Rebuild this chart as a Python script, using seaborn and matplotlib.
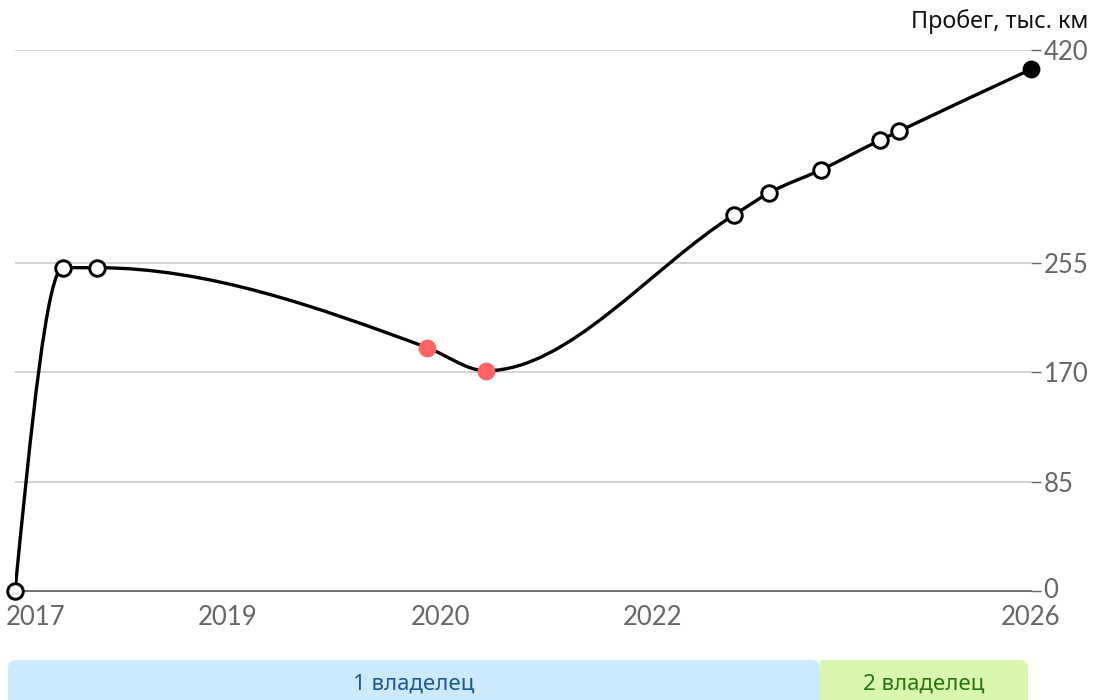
import numpy as np
import matplotlib
matplotlib.use("Agg")
import matplotlib.pyplot as plt
import matplotlib.transforms as mtransforms
from matplotlib.path import Path
from matplotlib.patches import PathPatch, FancyBboxPatch
import seaborn as sns
import pandas as pd

# --- data ---
# x position on the axis (tick spacing units: 2017=0, 2019=1, 2020=2, 2022=3, 2026=4.78)
x_pos = [0.0, 0.226, 0.386, 1.939, 2.216, 3.384, 3.548, 3.793, 4.071, 4.160, 4.781]
mileage = [0, 251, 251, 189, 171, 292, 309, 327, 350, 357, 405]
kind = ["empty", "empty", "empty", "red", "red", "empty", "empty", "empty", "empty", "empty", "last"]

tick_pos = [0, 1, 2, 3, 4.781]
tick_labels = ["2017", "2019", "2020", "2022", "2026"]
y_ticks = [0, 85, 170, 255, 420]

owners = ["1 владелец", "2 владелец"]
owner_change = 3.788  # where the second owner starts, in x units

sns.set_style("white")
plt.rcParams["font.family"] = ["Lato", "DejaVu Sans"]

df = pd.DataFrame({"x": x_pos, "km": mileage, "kind": kind})

fig = plt.figure(figsize=(10.94, 7.0), dpi=100)
ax = fig.add_axes([15 / 1094, 109 / 700, 1016 / 1094, 541 / 700])
ax.set_xlim(0, 4.781)
ax.set_ylim(0, 420)


def monotone_slopes(x, y):
    # same idea as d3.curveMonotoneX
    x = np.asarray(x, float)
    y = np.asarray(y, float)
    n = len(x)
    t = np.zeros(n)
    for i in range(1, n - 1):
        h0, h1 = x[i] - x[i - 1], x[i + 1] - x[i]
        s0, s1 = (y[i] - y[i - 1]) / h0, (y[i + 1] - y[i]) / h1
        p = (s0 * h1 + s1 * h0) / (h0 + h1)
        t[i] = (np.sign(s0) + np.sign(s1)) * min(abs(s0), abs(s1), 0.5 * abs(p))
    t[0] = (3 * (y[1] - y[0]) / (x[1] - x[0]) - t[1]) / 2
    t[-1] = (3 * (y[-1] - y[-2]) / (x[-1] - x[-2]) - t[-2]) / 2
    return t


t = monotone_slopes(x_pos, mileage)
verts = [(x_pos[0], mileage[0])]
codes = [Path.MOVETO]
for i in range(len(x_pos) - 1):
    dx = (x_pos[i + 1] - x_pos[i]) / 3
    verts += [(x_pos[i] + dx, mileage[i] + dx * t[i]),
              (x_pos[i + 1] - dx, mileage[i + 1] - dx * t[i + 1]),
              (x_pos[i + 1], mileage[i + 1])]
    codes += [Path.CURVE4] * 3
ax.add_patch(PathPatch(Path(verts, codes), facecolor="none", edgecolor="black",
                       lw=2.4, zorder=3, capstyle="round"))

# gridlines
for v in y_ticks[1:]:
    ax.axhline(v, color="#cccccc", lw=1.2, zorder=1)

# markers
styles = {"empty": dict(facecolor="white", edgecolor="black", s=125, linewidth=2.1),
          "red": dict(facecolor="#ff6363", edgecolor="#ff6363", s=165, linewidth=0),
          "last": dict(facecolor="black", edgecolor="black", s=165, linewidth=0)}
for k, st in styles.items():
    sub = df[df["kind"] == k]
    sns.scatterplot(data=sub, x="x", y="km", ax=ax, zorder=4, clip_on=False,
                    legend=False, **st)

ax.set_xlabel("")
ax.set_ylabel("")
for side in ["top", "left", "right"]:
    ax.spines[side].set_visible(False)
ax.spines["bottom"].set_color("#666666")
ax.spines["bottom"].set_linewidth(1.3)

ax.yaxis.tick_right()
ax.set_yticks(y_ticks)
ax.set_yticklabels([str(v) for v in y_ticks])
ax.tick_params(axis="y", length=7, width=1, color="#666666", pad=2,
               labelsize=18.5, labelcolor="#666666")
ax.set_xticks(tick_pos)
ax.set_xticklabels(tick_labels)
ax.tick_params(axis="x", length=7, width=1, color="#666666", pad=3,
               labelsize=18.5, labelcolor="#666666")
first = ax.get_xticklabels()[0]
first.set_horizontalalignment("left")
first.set_transform(first.get_transform() + mtransforms.ScaledTranslation(-9 / 100, 0, fig.dpi_scale_trans))
zero = ax.get_yticklabels()[0]
zero.set_transform(zero.get_transform() + mtransforms.ScaledTranslation(0, 3 / 100, fig.dpi_scale_trans))

fig.text(1088 / 1094, 1 - 22 / 700, "Пробег, тыс. км", ha="right", va="center",
         fontsize=16.8, color="#111111", family=["Noto Sans", "DejaVu Sans"])

# owner band
bax = fig.add_axes([8 / 1094, 0, 1020 / 1094, 40 / 700])
bax.set_xlim(-7 / 212.5, 4.781 - 3 / 212.5)
bax.set_ylim(0, 40)
bax.axis("off")
band_blue = "#cdeafd"
band_green = "#d9f7ae"
x0, x1 = bax.get_xlim()
bax.add_patch(FancyBboxPatch((x0, -20), owner_change - x0, 60,
                             boxstyle="round,pad=0,rounding_size=0.04",
                             mutation_aspect=200, facecolor=band_blue, edgecolor="none"))
bax.add_patch(FancyBboxPatch((owner_change, -20), x1 - owner_change, 60,
                             boxstyle="round,pad=0,rounding_size=0.04",
                             mutation_aspect=200, facecolor=band_green, edgecolor="none"))
bax.add_patch(plt.Rectangle((owner_change, -20), 0.1, 60, facecolor=band_green, edgecolor="none"))
bax.text((x0 + owner_change) / 2, 16, owners[0], ha="center", va="center",
         fontsize=16, color="#1b5a94", family=["Noto Sans", "DejaVu Sans"])
bax.text((owner_change + x1) / 2, 16, owners[1], ha="center", va="center",
         fontsize=16, color="#2b7410", family=["Noto Sans", "DejaVu Sans"])

fig.savefig("out.png", dpi=100)
